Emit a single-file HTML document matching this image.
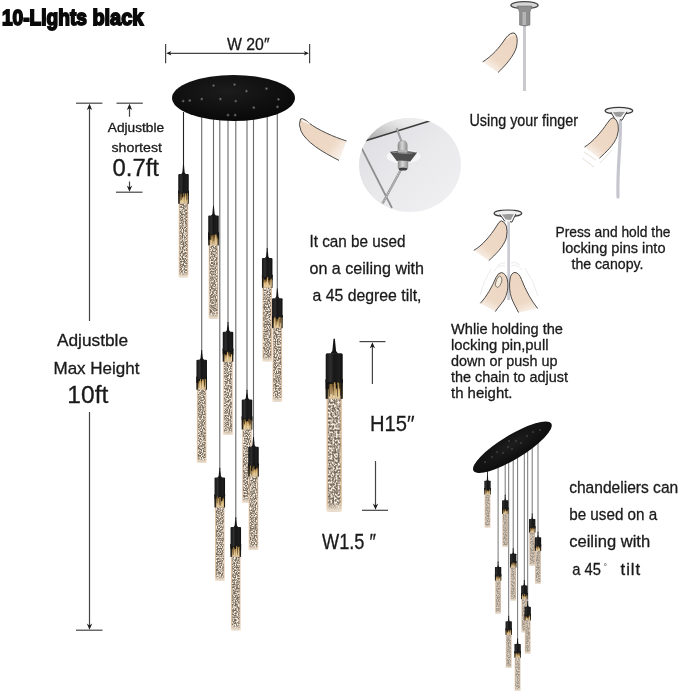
<!DOCTYPE html>
<html><head><meta charset="utf-8"><title>10-Lights black</title>
<style>
html,body{margin:0;padding:0;background:#fff;}
body{width:679px;height:693px;overflow:hidden;font-family:"Liberation Sans", sans-serif;}
svg{display:block;font-family:"Liberation Sans", sans-serif;}
</style></head><body>
<svg width="679" height="693" viewBox="0 0 679 693">

<defs>
<linearGradient id="cap" x1="0" x2="1" y1="0" y2="0">
 <stop offset="0" stop-color="#141414"/><stop offset="0.28" stop-color="#2e2e2e"/><stop offset="0.5" stop-color="#161616"/><stop offset="0.8" stop-color="#1f1f1f"/><stop offset="1" stop-color="#0c0c0c"/>
</linearGradient>
<linearGradient id="gold" x1="0" x2="0" y1="0" y2="1">
 <stop offset="0" stop-color="#2a1e10"/><stop offset="0.35" stop-color="#7a5d36"/><stop offset="0.75" stop-color="#c2a06c"/><stop offset="1" stop-color="#dac4a0"/>
</linearGradient>
<linearGradient id="goldedge" x1="0" x2="1" y1="0" y2="0">
 <stop offset="0" stop-color="#111" stop-opacity="1"/><stop offset="0.1" stop-color="#111" stop-opacity="0.85"/><stop offset="0.2" stop-color="#111" stop-opacity="0"/><stop offset="0.8" stop-color="#111" stop-opacity="0"/><stop offset="0.9" stop-color="#111" stop-opacity="0.85"/><stop offset="1" stop-color="#111" stop-opacity="1"/>
</linearGradient>
<linearGradient id="streak" x1="0" x2="0" y1="0" y2="1">
 <stop offset="0" stop-color="#b08846"/><stop offset="0.3" stop-color="#e6c07a"/><stop offset="0.7" stop-color="#f0d8a6"/><stop offset="1" stop-color="#e0c49a"/>
</linearGradient>
<linearGradient id="crg" x1="0" x2="1" y1="0" y2="0">
 <stop offset="0" stop-color="#e9d2bb"/><stop offset="0.1" stop-color="#d8b692"/><stop offset="0.18" stop-color="#b9a48e"/><stop offset="0.5" stop-color="#a89a8a"/><stop offset="0.82" stop-color="#b9a48e"/><stop offset="0.9" stop-color="#d8b692"/><stop offset="1" stop-color="#e9d2bb"/>
</linearGradient>
<linearGradient id="crgS" x1="0" x2="1" y1="0" y2="0">
 <stop offset="0" stop-color="#dfcbb8"/><stop offset="0.14" stop-color="#cfb8a0"/><stop offset="0.25" stop-color="#c3b8aa"/><stop offset="0.5" stop-color="#bcb2a6"/><stop offset="0.75" stop-color="#c3b8aa"/><stop offset="0.86" stop-color="#cfb8a0"/><stop offset="1" stop-color="#dfcbb8"/>
</linearGradient>
<linearGradient id="glow" x1="0" x2="0" y1="0" y2="1">
 <stop offset="0" stop-color="#f3e6d4" stop-opacity="0"/><stop offset="1" stop-color="#f6ead9" stop-opacity="0.95"/>
</linearGradient>
<radialGradient id="canopy" cx="0.45" cy="0.35" r="0.7">
 <stop offset="0" stop-color="#1c1c1c"/><stop offset="1" stop-color="#070707"/>
</radialGradient>
<radialGradient id="canopy2" cx="0.5" cy="0.4" r="0.7">
 <stop offset="0" stop-color="#1e1e1e"/><stop offset="1" stop-color="#0a0a0a"/>
</radialGradient>
<linearGradient id="circ" x1="0" x2="1" y1="0" y2="1">
 <stop offset="0" stop-color="#dcdce0"/><stop offset="0.5" stop-color="#e9e9ec"/><stop offset="1" stop-color="#f1f1f3"/>
</linearGradient>
<linearGradient id="ceil" x1="0" x2="1" y1="1" y2="0">
 <stop offset="0" stop-color="#9a9a9a"/><stop offset="0.5" stop-color="#e8e8e8"/><stop offset="1" stop-color="#ffffff"/>
</linearGradient>
<linearGradient id="f1" gradientUnits="userSpaceOnUse" x1="513" y1="37" x2="489" y2="68"><stop offset="0" stop-color="#ecd6c2"/><stop offset="0.72" stop-color="#eed9c6"/><stop offset="1" stop-color="#f9f1ea"/></linearGradient>
<linearGradient id="f2" gradientUnits="userSpaceOnUse" x1="615" y1="124" x2="591" y2="154"><stop offset="0" stop-color="#ecd6c2"/><stop offset="0.72" stop-color="#eed9c6"/><stop offset="1" stop-color="#f9f1ea"/></linearGradient>
<linearGradient id="f3" gradientUnits="userSpaceOnUse" x1="503" y1="226" x2="480" y2="257"><stop offset="0" stop-color="#ecd6c2"/><stop offset="0.72" stop-color="#eed9c6"/><stop offset="1" stop-color="#f9f1ea"/></linearGradient>
<linearGradient id="f4" gradientUnits="userSpaceOnUse" x1="502" y1="276" x2="486" y2="309"><stop offset="0" stop-color="#ecd6c2"/><stop offset="0.72" stop-color="#eed9c6"/><stop offset="1" stop-color="#f9f1ea"/></linearGradient>
<linearGradient id="f5" gradientUnits="userSpaceOnUse" x1="515" y1="275" x2="530" y2="312"><stop offset="0" stop-color="#ecd6c2"/><stop offset="0.72" stop-color="#eed9c6"/><stop offset="1" stop-color="#f9f1ea"/></linearGradient>
<linearGradient id="f6" gradientUnits="userSpaceOnUse" x1="303" y1="121" x2="344" y2="152"><stop offset="0" stop-color="#ecd6c2"/><stop offset="0.72" stop-color="#eed9c6"/><stop offset="1" stop-color="#f9f1ea"/></linearGradient>
<linearGradient id="cyl" x1="0" x2="1" y1="0" y2="0">
 <stop offset="0" stop-color="#8a8a8a"/><stop offset="0.45" stop-color="#d5d5d5"/><stop offset="1" stop-color="#8f8f8f"/>
</linearGradient>
<filter id="spk0" x="0" y="0" width="1" height="1" color-interpolation-filters="sRGB">
 <feTurbulence type="fractalNoise" baseFrequency="0.85 0.7" numOctaves="2" seed="7" result="n"/>
 <feColorMatrix in="n" type="matrix" values="3.0 0 0 0 -1.0  3.0 0 0 0 -1.0  3.0 0 0 0 -1.0  0 0 0 0 1" result="c"/>
 <feComponentTransfer in="c" result="d">
  <feFuncR type="table" tableValues="0.44 0.55 0.68 0.82 0.96"/>
  <feFuncG type="table" tableValues="0.40 0.50 0.63 0.78 0.93"/>
  <feFuncB type="table" tableValues="0.35 0.44 0.57 0.72 0.89"/>
 </feComponentTransfer>
 <feGaussianBlur in="d" stdDeviation="0.4" result="e"/>
 <feComposite in="e" in2="SourceGraphic" operator="in"/>
</filter>
<filter id="spkB" x="0" y="0" width="1" height="1" color-interpolation-filters="sRGB">
 <feTurbulence type="fractalNoise" baseFrequency="0.55 0.5" numOctaves="2" seed="11" result="n"/>
 <feColorMatrix in="n" type="matrix" values="3.0 0 0 0 -1.0  3.0 0 0 0 -1.0  3.0 0 0 0 -1.0  0 0 0 0 1" result="c"/>
 <feComponentTransfer in="c" result="d">
  <feFuncR type="table" tableValues="0.44 0.55 0.68 0.82 0.96"/>
  <feFuncG type="table" tableValues="0.40 0.50 0.63 0.78 0.93"/>
  <feFuncB type="table" tableValues="0.35 0.44 0.57 0.72 0.89"/>
 </feComponentTransfer>
 <feGaussianBlur in="d" stdDeviation="0.4" result="e"/>
 <feComposite in="e" in2="SourceGraphic" operator="in"/>
</filter>
<filter id="spk1" x="0" y="0" width="1" height="1" color-interpolation-filters="sRGB">
 <feTurbulence type="fractalNoise" baseFrequency="0.85 0.7" numOctaves="2" seed="23" result="n"/>
 <feColorMatrix in="n" type="matrix" values="3.0 0 0 0 -1.0  3.0 0 0 0 -1.0  3.0 0 0 0 -1.0  0 0 0 0 1" result="c"/>
 <feComponentTransfer in="c" result="d">
  <feFuncR type="table" tableValues="0.44 0.55 0.68 0.82 0.96"/>
  <feFuncG type="table" tableValues="0.40 0.50 0.63 0.78 0.93"/>
  <feFuncB type="table" tableValues="0.35 0.44 0.57 0.72 0.89"/>
 </feComponentTransfer>
 <feGaussianBlur in="d" stdDeviation="0.4" result="e"/>
 <feComposite in="e" in2="SourceGraphic" operator="in"/>
</filter>
<filter id="spk2" x="0" y="0" width="1" height="1" color-interpolation-filters="sRGB">
 <feTurbulence type="fractalNoise" baseFrequency="0.85 0.7" numOctaves="2" seed="51" result="n"/>
 <feColorMatrix in="n" type="matrix" values="3.0 0 0 0 -1.0  3.0 0 0 0 -1.0  3.0 0 0 0 -1.0  0 0 0 0 1" result="c"/>
 <feComponentTransfer in="c" result="d">
  <feFuncR type="table" tableValues="0.44 0.55 0.68 0.82 0.96"/>
  <feFuncG type="table" tableValues="0.40 0.50 0.63 0.78 0.93"/>
  <feFuncB type="table" tableValues="0.35 0.44 0.57 0.72 0.89"/>
 </feComponentTransfer>
 <feGaussianBlur in="d" stdDeviation="0.4" result="e"/>
 <feComposite in="e" in2="SourceGraphic" operator="in"/>
</filter>

</defs>

<rect width="679" height="693" fill="#fff"/>

<!-- diagram 1: fixture + finger -->
<g>
<rect x="523" y="24" width="3" height="67" fill="#c9c9ce"/>
<ellipse cx="524.5" cy="5.2" rx="13.6" ry="3.6" fill="#d6d6d6" stroke="#4a4a4a" stroke-width="1.3"/>
<path d="M517 6 L532 6 L530 12 L530 25 Q524.5 27 519.5 25 L519.5 12 Z" fill="#8f8f8f" stroke="#666" stroke-width="0.5"/>
<rect x="522.5" y="12" width="3.5" height="13" fill="#b5b5b5"/>
<path d="M482.7 61.9 C492 56 500 47 505 39 Q511 31 515 33.5 Q518.5 37 516.5 47 C514 56 505 66 498 72.5" fill="url(#f1)"/>
<path d="M482.7 61.9 C492 56 500 47 505 39 Q511 31 515 33.5 Q518.5 37 516.5 47 C514 56 505 66 498 72.5" fill="none" stroke="#3a3a3a" stroke-width="0.9"/>
<path d="M506.8 38.8 Q511 34.8 514.5 34.6" fill="none" stroke="#fff" stroke-width="0.9"/>
</g>
<!-- diagram 2 -->
<g>
<path d="M620.3 120 C621.5 140 617 165 618 197" fill="none" stroke="#c6c6cf" stroke-width="3.2" stroke-linecap="round"/>
<ellipse cx="618.9" cy="110.8" rx="13.8" ry="3.4" fill="#f0f0f0" stroke="#3c3c3c" stroke-width="1.2"/>
<path d="M610.8 112 Q618.8 110.6 626.8 111.8 L622 120.2 L614.6 118.6 Z" fill="#f4f4f4"/>
<path d="M612.8 112.2 Q618.8 111.2 624.8 112 L620.8 117 L616 116.6 Z" fill="#9c9c9c"/>
<path d="M610.8 112 L614.6 118.6 M626.8 111.8 L622 120.2 L620 119.6" fill="none" stroke="#3c3c3c" stroke-width="1"/>
<path d="M584.5 147 C593 142 602 131 607 123.5 Q610.5 117.9 613 117.7 Q616.5 118.5 618 124 Q619.3 130 617 136.5 C614 145 606 152 599.4 158.3" fill="url(#f2)"/>
<path d="M584.5 147 C593 142 602 131 607 123.5 Q610.5 117.9 613 117.7 Q616.5 118.5 618 124 Q619.3 130 617 136.5 C614 145 606 152 599.4 158.3" fill="none" stroke="#3a3a3a" stroke-width="0.9"/>
<path d="M584 152 L596 160 M582 158 L594 167 M600 163 L612 150" stroke="#e8e0d8" stroke-width="1" fill="none"/>
</g>
<!-- diagram 3 -->
<g>
<rect x="507.3" y="221" width="2.7" height="79" fill="#cbcbd3"/>
<ellipse cx="507.9" cy="213.3" rx="13.8" ry="3.3" fill="#f0f0f0" stroke="#3c3c3c" stroke-width="1.2"/>
<path d="M499.8 214.4 Q507.8 213 515.9 214 L511.9 222.2 L504.9 221.4 Z" fill="#f4f4f4"/>
<path d="M501.8 214.6 Q507.8 213.6 513.9 214.3 L510.6 220 L505.8 219.6 Z" fill="#9c9c9c"/>
<path d="M499.8 214.4 L504.9 221.4 M515.9 214 L511.9 222.2 L510 221.6" fill="none" stroke="#3c3c3c" stroke-width="1"/>
<path d="M473.8 250.3 C482 246 491 235 496 227 Q499 221.3 501.2 220.8 Q504.5 221.5 506.3 226 Q507.8 231 506.3 238 C503.5 247 495 255 488.8 260.6" fill="url(#f3)"/>
<path d="M473.8 250.3 C482 246 491 235 496 227 Q499 221.3 501.2 220.8 Q504.5 221.5 506.3 226 Q507.8 231 506.3 238 C503.5 247 495 255 488.8 260.6" fill="none" stroke="#3a3a3a" stroke-width="0.9"/>
<!-- lower left finger -->
<path d="M480.4 303.3 C487 296 492 287 496 277.5 Q498.5 272.3 501.5 272.6 Q506 273.5 507.4 280 C508.6 287 507.5 294 504 300 C501 304.5 497.5 308 495.3 311.6" fill="url(#f4)"/>
<path d="M480.4 303.3 C487 296 492 287 496 277.5 Q498.5 272.3 501.5 272.6 Q506 273.5 507.4 280 C508.6 287 507.5 294 504 300 C501 304.5 497.5 308 495.3 311.6" fill="none" stroke="#3a3a3a" stroke-width="0.9"/>
<path d="M495.2 285.5 Q496.2 277.8 499.5 276.2 Q502.6 276.6 501.6 282 Q500.2 286.6 497.6 287.6 Z" fill="#f6ecdc" stroke="#4a4a4a" stroke-width="0.7"/>
<!-- lower right finger -->
<path d="M537.7 308.6 C531 300 526 291 521.5 279.5 Q519 272.8 515 272.4 Q511 272.8 510 279 C509 286 509.6 292 511.5 298 C513.5 303.5 516.5 308 518.5 312.5" fill="url(#f5)"/>
<path d="M537.7 308.6 C531 300 526 291 521.5 279.5 Q519 272.8 515 272.4 Q511 272.8 510 279 C509 286 509.6 292 511.5 298 C513.5 303.5 516.5 308 518.5 312.5" fill="none" stroke="#3a3a3a" stroke-width="0.9"/>
<path d="M494 271 Q499 264 505 266 M511 266 Q517 263 522 270 M491 269 Q483 282 480 295 M525 268 Q534 282 538 296 M497 266 Q501 262 505 263 M511 263 Q516 261 520 265" stroke="#e9e9ea" stroke-width="0.9" fill="none"/>
</g>
<!-- ceiling circle -->
<g>
<clipPath id="cc"><ellipse cx="410" cy="165" rx="51" ry="47"/></clipPath>
<ellipse cx="410" cy="165" rx="51" ry="47" fill="url(#circ)"/>
<g clip-path="url(#cc)">
<path d="M350 100 L440 100 L432 119 L364 141 Z" fill="url(#ceil)"/>
<line x1="364" y1="141.2" x2="432" y2="120.2" stroke="#3c3c3c" stroke-width="1.5"/>
<line x1="361.3" y1="147.5" x2="392" y2="208" stroke="#8e8e8e" stroke-width="1.7"/>
<line x1="396.6" y1="128" x2="401.5" y2="141.5" stroke="#909090" stroke-width="2"/><line x1="396.6" y1="128" x2="401.5" y2="141.5" stroke="#cfcfcf" stroke-width="0.8" stroke-dasharray="1 1"/>
<ellipse cx="403.5" cy="156.5" rx="17" ry="7" fill="#f5f5f7"/>
<line x1="401.3" y1="169" x2="382.5" y2="203.5" stroke="#9a9a9a" stroke-width="2.5"/>
<line x1="401.3" y1="169" x2="382.5" y2="203.5" stroke="#cfcfcf" stroke-width="1" stroke-dasharray="1.1 1.1"/>
<path d="M397.9 152.5 L397.9 145 Q398.2 140.6 402.6 140.6 Q407 140.6 407.3 145 L407.3 152.5 Z" fill="url(#cyl)" stroke="#8a8a8a" stroke-width="0.4"/>
<path d="M389.8 151.8 Q403 154.8 417.2 152.6 L410.3 161.4 L396.8 161 Z" fill="#4e4e4e"/>
<path d="M389.8 151.8 Q403 154.8 417.2 152.6 Q403 149.5 389.8 151.8 Z" fill="#6a6a6a"/>
<path d="M397.9 152.6 L407.3 152.8 L407.3 150.5 L397.9 150.3 Z" fill="#b5b5b5"/>
<path d="M397.8 160.6 L408.3 160.9 L408.1 168.8 Q403 171.2 397.8 168.6 Z" fill="url(#cyl)"/>
<ellipse cx="403" cy="169" rx="4.3" ry="1.6" fill="#3e3e3e"/>
</g>
</g>
<!-- finger next to canopy -->
<g>
<path d="M346.5 141 C334 137 318 130 309 123 Q303 117.5 300.5 119 Q298 124 301 131 C306 142 322 152 339 160.4" fill="url(#f6)"/>
<path d="M346.5 141 C334 137 318 130 309 123 Q303 117.5 300.5 119 Q298 124 301 131 C306 142 322 152 339 160.4" fill="none" stroke="#3a3a3a" stroke-width="0.9"/>
<path d="M301.8 119.6 Q303.5 121.8 307 122.2 L309.5 124" fill="none" stroke="#fff" stroke-width="1.1"/>
</g>

<line x1="183.50" y1="112" x2="183.50" y2="165.90" stroke="#222" stroke-width="1.1"/>
<line x1="213.50" y1="112" x2="213.50" y2="207.50" stroke="#6a6a6a" stroke-width="1.1"/>
<line x1="267.20" y1="112" x2="267.20" y2="249.90" stroke="#6a6a6a" stroke-width="1.1"/>
<line x1="277.30" y1="112" x2="277.30" y2="290.30" stroke="#6a6a6a" stroke-width="1.1"/>
<line x1="228.00" y1="112" x2="228.00" y2="323.80" stroke="#6a6a6a" stroke-width="1.1"/>
<line x1="201.70" y1="112" x2="201.70" y2="351.80" stroke="#6a6a6a" stroke-width="1.1"/>
<line x1="247.00" y1="112" x2="247.00" y2="391.60" stroke="#6a6a6a" stroke-width="1.1"/>
<line x1="253.50" y1="112" x2="253.50" y2="438.70" stroke="#6a6a6a" stroke-width="1.1"/>
<line x1="219.80" y1="112" x2="219.80" y2="469.60" stroke="#6a6a6a" stroke-width="1.1"/>
<line x1="235.80" y1="112" x2="235.80" y2="519.00" stroke="#6a6a6a" stroke-width="1.1"/>
<path d="M183.08 164.10 L183.92 164.10 L184.66 172.40 L186.04 174.40 L180.96 174.40 L182.34 172.40 Z" fill="#141414"/>
<rect x="178.67" y="202.49" width="9.66" height="74.71" rx="0.90" fill="url(#crg)"/>
<rect x="179.64" y="202.49" width="7.73" height="72.21" fill="#fff" filter="url(#spk1)" opacity="1.0"/>
<rect x="178.67" y="271.18" width="9.66" height="6.02" rx="0.90" fill="url(#glow)"/>
<rect x="178.25" y="190.95" width="10.50" height="12.83" fill="url(#gold)"/>
<rect x="178.25" y="190.95" width="10.50" height="12.83" fill="url(#goldedge)"/>
<rect x="178.25" y="190.85" width="2.15" height="2.25" fill="#121212"/>
<rect x="180.35" y="190.85" width="2.15" height="6.54" fill="#121212"/>
<rect x="182.45" y="190.85" width="2.15" height="6.04" fill="#121212"/>
<rect x="184.55" y="190.85" width="2.15" height="2.98" fill="#121212"/>
<rect x="186.65" y="190.85" width="2.15" height="4.43" fill="#121212"/>
<rect x="180.43" y="193.76" width="1.18" height="9.73" fill="url(#streak)"/>
<rect x="181.62" y="197.88" width="1.20" height="5.60" fill="url(#streak)"/>
<rect x="183.44" y="193.02" width="0.70" height="10.46" fill="url(#streak)"/>
<rect x="184.96" y="193.29" width="0.84" height="10.19" fill="url(#streak)"/>
<rect x="186.93" y="192.10" width="0.72" height="11.38" fill="url(#streak)"/>
<rect x="180.01" y="194.46" width="0.55" height="6.22" fill="#2a1b0a" opacity="0.75"/>
<rect x="186.73" y="194.46" width="0.55" height="5.45" fill="#2a1b0a" opacity="0.75"/>
<rect x="181.42" y="194.46" width="0.55" height="5.64" fill="#2a1b0a" opacity="0.75"/>
<rect x="178.25" y="173.90" width="10.50" height="19.00" rx="1.00" fill="url(#cap)"/>
<path d="M213.08 205.70 L213.92 205.70 L214.66 214.00 L216.04 216.00 L210.96 216.00 L212.34 214.00 Z" fill="#141414"/>
<rect x="208.67" y="244.09" width="9.66" height="74.71" rx="0.90" fill="url(#crg)"/>
<rect x="209.64" y="244.09" width="7.73" height="72.21" fill="#fff" filter="url(#spk2)" opacity="1.0"/>
<rect x="208.67" y="312.78" width="9.66" height="6.02" rx="0.90" fill="url(#glow)"/>
<rect x="208.25" y="232.55" width="10.50" height="12.83" fill="url(#gold)"/>
<rect x="208.25" y="232.55" width="10.50" height="12.83" fill="url(#goldedge)"/>
<rect x="208.25" y="232.45" width="2.15" height="7.20" fill="#121212"/>
<rect x="210.35" y="232.45" width="2.15" height="7.15" fill="#121212"/>
<rect x="212.45" y="232.45" width="2.15" height="1.78" fill="#121212"/>
<rect x="214.55" y="232.45" width="2.15" height="1.95" fill="#121212"/>
<rect x="216.65" y="232.45" width="2.15" height="6.47" fill="#121212"/>
<rect x="210.69" y="235.24" width="0.89" height="9.85" fill="url(#streak)"/>
<rect x="212.08" y="235.65" width="1.05" height="9.43" fill="url(#streak)"/>
<rect x="213.19" y="236.82" width="0.94" height="8.27" fill="url(#streak)"/>
<rect x="215.21" y="233.09" width="1.27" height="12.00" fill="url(#streak)"/>
<rect x="216.56" y="236.73" width="0.86" height="8.36" fill="url(#streak)"/>
<rect x="210.09" y="236.06" width="0.55" height="3.74" fill="#2a1b0a" opacity="0.75"/>
<rect x="213.24" y="236.06" width="0.55" height="5.14" fill="#2a1b0a" opacity="0.75"/>
<rect x="212.62" y="236.06" width="0.55" height="7.90" fill="#2a1b0a" opacity="0.75"/>
<rect x="208.25" y="215.50" width="10.50" height="19.00" rx="1.00" fill="url(#cap)"/>
<path d="M266.78 248.10 L267.62 248.10 L268.35 256.40 L269.74 258.40 L264.66 258.40 L266.05 256.40 Z" fill="#141414"/>
<rect x="262.37" y="286.49" width="9.66" height="74.71" rx="0.90" fill="url(#crg)"/>
<rect x="263.34" y="286.49" width="7.73" height="72.21" fill="#fff" filter="url(#spk0)" opacity="1.0"/>
<rect x="262.37" y="355.18" width="9.66" height="6.02" rx="0.90" fill="url(#glow)"/>
<rect x="261.95" y="274.95" width="10.50" height="12.83" fill="url(#gold)"/>
<rect x="261.95" y="274.95" width="10.50" height="12.83" fill="url(#goldedge)"/>
<rect x="261.95" y="274.85" width="2.15" height="2.88" fill="#121212"/>
<rect x="264.05" y="274.85" width="2.15" height="4.72" fill="#121212"/>
<rect x="266.15" y="274.85" width="2.15" height="3.67" fill="#121212"/>
<rect x="268.25" y="274.85" width="2.15" height="5.08" fill="#121212"/>
<rect x="270.35" y="274.85" width="2.15" height="5.21" fill="#121212"/>
<rect x="263.78" y="281.98" width="1.21" height="5.50" fill="url(#streak)"/>
<rect x="265.47" y="280.52" width="1.30" height="6.97" fill="url(#streak)"/>
<rect x="267.17" y="276.53" width="0.99" height="10.95" fill="url(#streak)"/>
<rect x="268.84" y="281.07" width="1.08" height="6.41" fill="url(#streak)"/>
<rect x="270.56" y="278.61" width="1.15" height="8.88" fill="url(#streak)"/>
<rect x="268.46" y="278.46" width="0.55" height="3.92" fill="#2a1b0a" opacity="0.75"/>
<rect x="269.10" y="278.46" width="0.55" height="6.46" fill="#2a1b0a" opacity="0.75"/>
<rect x="265.74" y="278.46" width="0.55" height="3.76" fill="#2a1b0a" opacity="0.75"/>
<rect x="261.95" y="257.90" width="10.50" height="19.00" rx="1.00" fill="url(#cap)"/>
<path d="M276.88 288.50 L277.72 288.50 L278.45 296.80 L279.84 298.80 L274.76 298.80 L276.15 296.80 Z" fill="#141414"/>
<rect x="272.47" y="326.89" width="9.66" height="74.71" rx="0.90" fill="url(#crg)"/>
<rect x="273.44" y="326.89" width="7.73" height="72.21" fill="#fff" filter="url(#spk1)" opacity="1.0"/>
<rect x="272.47" y="395.58" width="9.66" height="6.02" rx="0.90" fill="url(#glow)"/>
<rect x="272.05" y="315.35" width="10.50" height="12.83" fill="url(#gold)"/>
<rect x="272.05" y="315.35" width="10.50" height="12.83" fill="url(#goldedge)"/>
<rect x="272.05" y="315.25" width="2.15" height="2.86" fill="#121212"/>
<rect x="274.15" y="315.25" width="2.15" height="2.06" fill="#121212"/>
<rect x="276.25" y="315.25" width="2.15" height="3.83" fill="#121212"/>
<rect x="278.35" y="315.25" width="2.15" height="2.38" fill="#121212"/>
<rect x="280.45" y="315.25" width="2.15" height="1.84" fill="#121212"/>
<rect x="274.19" y="316.39" width="1.18" height="11.49" fill="url(#streak)"/>
<rect x="276.03" y="321.00" width="1.02" height="6.88" fill="url(#streak)"/>
<rect x="277.10" y="321.33" width="0.77" height="6.56" fill="url(#streak)"/>
<rect x="278.55" y="316.33" width="1.20" height="11.55" fill="url(#streak)"/>
<rect x="280.60" y="317.17" width="0.82" height="10.71" fill="url(#streak)"/>
<rect x="275.90" y="318.86" width="0.55" height="6.63" fill="#2a1b0a" opacity="0.75"/>
<rect x="279.00" y="318.86" width="0.55" height="7.72" fill="#2a1b0a" opacity="0.75"/>
<rect x="280.09" y="318.86" width="0.55" height="4.03" fill="#2a1b0a" opacity="0.75"/>
<rect x="272.05" y="298.30" width="10.50" height="19.00" rx="1.00" fill="url(#cap)"/>
<path d="M227.58 322.00 L228.42 322.00 L229.16 330.30 L230.54 332.30 L225.46 332.30 L226.84 330.30 Z" fill="#141414"/>
<rect x="223.17" y="360.39" width="9.66" height="74.71" rx="0.90" fill="url(#crg)"/>
<rect x="224.14" y="360.39" width="7.73" height="72.21" fill="#fff" filter="url(#spk2)" opacity="1.0"/>
<rect x="223.17" y="429.08" width="9.66" height="6.02" rx="0.90" fill="url(#glow)"/>
<rect x="222.75" y="348.85" width="10.50" height="12.83" fill="url(#gold)"/>
<rect x="222.75" y="348.85" width="10.50" height="12.83" fill="url(#goldedge)"/>
<rect x="222.75" y="348.75" width="2.15" height="5.19" fill="#121212"/>
<rect x="224.85" y="348.75" width="2.15" height="5.91" fill="#121212"/>
<rect x="226.95" y="348.75" width="2.15" height="6.23" fill="#121212"/>
<rect x="229.05" y="348.75" width="2.15" height="7.12" fill="#121212"/>
<rect x="231.15" y="348.75" width="2.15" height="5.90" fill="#121212"/>
<rect x="225.36" y="355.78" width="0.98" height="5.61" fill="url(#streak)"/>
<rect x="226.89" y="351.67" width="1.24" height="9.71" fill="url(#streak)"/>
<rect x="227.65" y="352.87" width="0.85" height="8.52" fill="url(#streak)"/>
<rect x="229.55" y="352.17" width="0.71" height="9.21" fill="url(#streak)"/>
<rect x="230.77" y="354.12" width="1.25" height="7.27" fill="url(#streak)"/>
<rect x="229.95" y="352.36" width="0.55" height="4.38" fill="#2a1b0a" opacity="0.75"/>
<rect x="230.18" y="352.36" width="0.55" height="4.28" fill="#2a1b0a" opacity="0.75"/>
<rect x="228.86" y="352.36" width="0.55" height="4.22" fill="#2a1b0a" opacity="0.75"/>
<rect x="222.75" y="331.80" width="10.50" height="19.00" rx="1.00" fill="url(#cap)"/>
<path d="M201.28 350.00 L202.12 350.00 L202.85 358.30 L204.24 360.30 L199.16 360.30 L200.54 358.30 Z" fill="#141414"/>
<rect x="196.87" y="388.39" width="9.66" height="74.71" rx="0.90" fill="url(#crg)"/>
<rect x="197.84" y="388.39" width="7.73" height="72.21" fill="#fff" filter="url(#spk0)" opacity="1.0"/>
<rect x="196.87" y="457.08" width="9.66" height="6.02" rx="0.90" fill="url(#glow)"/>
<rect x="196.45" y="376.85" width="10.50" height="12.83" fill="url(#gold)"/>
<rect x="196.45" y="376.85" width="10.50" height="12.83" fill="url(#goldedge)"/>
<rect x="196.45" y="376.75" width="2.15" height="6.22" fill="#121212"/>
<rect x="198.55" y="376.75" width="2.15" height="6.39" fill="#121212"/>
<rect x="200.65" y="376.75" width="2.15" height="4.36" fill="#121212"/>
<rect x="202.75" y="376.75" width="2.15" height="3.02" fill="#121212"/>
<rect x="204.85" y="376.75" width="2.15" height="1.45" fill="#121212"/>
<rect x="198.82" y="380.86" width="1.16" height="8.53" fill="url(#streak)"/>
<rect x="200.07" y="378.87" width="0.87" height="10.51" fill="url(#streak)"/>
<rect x="201.97" y="379.14" width="0.95" height="10.25" fill="url(#streak)"/>
<rect x="203.25" y="379.46" width="0.82" height="9.93" fill="url(#streak)"/>
<rect x="204.77" y="378.64" width="0.86" height="10.75" fill="url(#streak)"/>
<rect x="203.93" y="380.36" width="0.55" height="6.91" fill="#2a1b0a" opacity="0.75"/>
<rect x="204.23" y="380.36" width="0.55" height="5.23" fill="#2a1b0a" opacity="0.75"/>
<rect x="198.71" y="380.36" width="0.55" height="7.46" fill="#2a1b0a" opacity="0.75"/>
<rect x="196.45" y="359.80" width="10.50" height="19.00" rx="1.00" fill="url(#cap)"/>
<path d="M246.58 389.80 L247.42 389.80 L248.16 398.10 L249.54 400.10 L244.46 400.10 L245.84 398.10 Z" fill="#141414"/>
<rect x="242.17" y="428.19" width="9.66" height="74.71" rx="0.90" fill="url(#crg)"/>
<rect x="243.14" y="428.19" width="7.73" height="72.21" fill="#fff" filter="url(#spk1)" opacity="1.0"/>
<rect x="242.17" y="496.88" width="9.66" height="6.02" rx="0.90" fill="url(#glow)"/>
<rect x="241.75" y="416.65" width="10.50" height="12.83" fill="url(#gold)"/>
<rect x="241.75" y="416.65" width="10.50" height="12.83" fill="url(#goldedge)"/>
<rect x="241.75" y="416.55" width="2.15" height="3.39" fill="#121212"/>
<rect x="243.85" y="416.55" width="2.15" height="2.35" fill="#121212"/>
<rect x="245.95" y="416.55" width="2.15" height="5.36" fill="#121212"/>
<rect x="248.05" y="416.55" width="2.15" height="1.88" fill="#121212"/>
<rect x="250.15" y="416.55" width="2.15" height="4.67" fill="#121212"/>
<rect x="243.85" y="423.39" width="1.01" height="5.80" fill="url(#streak)"/>
<rect x="245.07" y="420.90" width="0.74" height="8.29" fill="url(#streak)"/>
<rect x="246.63" y="420.96" width="1.20" height="8.23" fill="url(#streak)"/>
<rect x="248.17" y="422.29" width="1.08" height="6.89" fill="url(#streak)"/>
<rect x="250.43" y="419.95" width="0.94" height="9.24" fill="url(#streak)"/>
<rect x="250.50" y="420.16" width="0.55" height="3.83" fill="#2a1b0a" opacity="0.75"/>
<rect x="249.63" y="420.16" width="0.55" height="5.00" fill="#2a1b0a" opacity="0.75"/>
<rect x="244.39" y="420.16" width="0.55" height="4.18" fill="#2a1b0a" opacity="0.75"/>
<rect x="241.75" y="399.60" width="10.50" height="19.00" rx="1.00" fill="url(#cap)"/>
<path d="M253.08 436.90 L253.92 436.90 L254.66 445.20 L256.04 447.20 L250.96 447.20 L252.34 445.20 Z" fill="#141414"/>
<rect x="248.67" y="475.29" width="9.66" height="74.71" rx="0.90" fill="url(#crg)"/>
<rect x="249.64" y="475.29" width="7.73" height="72.21" fill="#fff" filter="url(#spk2)" opacity="1.0"/>
<rect x="248.67" y="543.98" width="9.66" height="6.02" rx="0.90" fill="url(#glow)"/>
<rect x="248.25" y="463.75" width="10.50" height="12.83" fill="url(#gold)"/>
<rect x="248.25" y="463.75" width="10.50" height="12.83" fill="url(#goldedge)"/>
<rect x="248.25" y="463.65" width="2.15" height="2.81" fill="#121212"/>
<rect x="250.35" y="463.65" width="2.15" height="7.23" fill="#121212"/>
<rect x="252.45" y="463.65" width="2.15" height="2.20" fill="#121212"/>
<rect x="254.55" y="463.65" width="2.15" height="5.69" fill="#121212"/>
<rect x="256.65" y="463.65" width="2.15" height="1.96" fill="#121212"/>
<rect x="250.25" y="464.26" width="0.83" height="12.03" fill="url(#streak)"/>
<rect x="252.12" y="467.83" width="0.97" height="8.45" fill="url(#streak)"/>
<rect x="253.50" y="469.60" width="1.20" height="6.69" fill="url(#streak)"/>
<rect x="254.64" y="469.32" width="0.71" height="6.97" fill="url(#streak)"/>
<rect x="256.31" y="468.17" width="1.24" height="8.11" fill="url(#streak)"/>
<rect x="252.61" y="467.26" width="0.55" height="4.16" fill="#2a1b0a" opacity="0.75"/>
<rect x="251.72" y="467.26" width="0.55" height="8.38" fill="#2a1b0a" opacity="0.75"/>
<rect x="250.29" y="467.26" width="0.55" height="6.60" fill="#2a1b0a" opacity="0.75"/>
<rect x="248.25" y="446.70" width="10.50" height="19.00" rx="1.00" fill="url(#cap)"/>
<path d="M219.38 467.80 L220.22 467.80 L220.96 476.10 L222.34 478.10 L217.26 478.10 L218.65 476.10 Z" fill="#141414"/>
<rect x="214.97" y="506.19" width="9.66" height="74.71" rx="0.90" fill="url(#crg)"/>
<rect x="215.94" y="506.19" width="7.73" height="72.21" fill="#fff" filter="url(#spk0)" opacity="1.0"/>
<rect x="214.97" y="574.88" width="9.66" height="6.02" rx="0.90" fill="url(#glow)"/>
<rect x="214.55" y="494.65" width="10.50" height="12.83" fill="url(#gold)"/>
<rect x="214.55" y="494.65" width="10.50" height="12.83" fill="url(#goldedge)"/>
<rect x="214.55" y="494.55" width="2.15" height="4.23" fill="#121212"/>
<rect x="216.65" y="494.55" width="2.15" height="3.69" fill="#121212"/>
<rect x="218.75" y="494.55" width="2.15" height="2.28" fill="#121212"/>
<rect x="220.85" y="494.55" width="2.15" height="6.66" fill="#121212"/>
<rect x="222.95" y="494.55" width="2.15" height="1.48" fill="#121212"/>
<rect x="216.78" y="495.82" width="0.75" height="11.36" fill="url(#streak)"/>
<rect x="218.34" y="497.69" width="0.73" height="9.50" fill="url(#streak)"/>
<rect x="219.69" y="497.11" width="0.97" height="10.07" fill="url(#streak)"/>
<rect x="221.52" y="500.73" width="0.85" height="6.46" fill="url(#streak)"/>
<rect x="222.47" y="498.42" width="1.26" height="8.77" fill="url(#streak)"/>
<rect x="220.46" y="498.16" width="0.55" height="7.34" fill="#2a1b0a" opacity="0.75"/>
<rect x="218.94" y="498.16" width="0.55" height="7.20" fill="#2a1b0a" opacity="0.75"/>
<rect x="216.87" y="498.16" width="0.55" height="5.01" fill="#2a1b0a" opacity="0.75"/>
<rect x="214.55" y="477.60" width="10.50" height="19.00" rx="1.00" fill="url(#cap)"/>
<path d="M235.38 517.20 L236.22 517.20 L236.96 525.50 L238.34 527.50 L233.26 527.50 L234.65 525.50 Z" fill="#141414"/>
<rect x="230.97" y="555.59" width="9.66" height="74.71" rx="0.90" fill="url(#crg)"/>
<rect x="231.94" y="555.59" width="7.73" height="72.21" fill="#fff" filter="url(#spk1)" opacity="1.0"/>
<rect x="230.97" y="624.28" width="9.66" height="6.02" rx="0.90" fill="url(#glow)"/>
<rect x="230.55" y="544.05" width="10.50" height="12.83" fill="url(#gold)"/>
<rect x="230.55" y="544.05" width="10.50" height="12.83" fill="url(#goldedge)"/>
<rect x="230.55" y="543.95" width="2.15" height="4.88" fill="#121212"/>
<rect x="232.65" y="543.95" width="2.15" height="4.03" fill="#121212"/>
<rect x="234.75" y="543.95" width="2.15" height="4.92" fill="#121212"/>
<rect x="236.85" y="543.95" width="2.15" height="2.68" fill="#121212"/>
<rect x="238.95" y="543.95" width="2.15" height="6.34" fill="#121212"/>
<rect x="233.07" y="546.84" width="0.80" height="9.74" fill="url(#streak)"/>
<rect x="234.31" y="549.00" width="0.85" height="7.59" fill="url(#streak)"/>
<rect x="236.21" y="544.57" width="0.73" height="12.01" fill="url(#streak)"/>
<rect x="237.64" y="547.18" width="0.93" height="9.41" fill="url(#streak)"/>
<rect x="238.63" y="546.70" width="0.98" height="9.88" fill="url(#streak)"/>
<rect x="237.17" y="547.56" width="0.55" height="6.80" fill="#2a1b0a" opacity="0.75"/>
<rect x="233.10" y="547.56" width="0.55" height="7.31" fill="#2a1b0a" opacity="0.75"/>
<rect x="239.35" y="547.56" width="0.55" height="8.28" fill="#2a1b0a" opacity="0.75"/>
<rect x="230.55" y="527.00" width="10.50" height="19.00" rx="1.00" fill="url(#cap)"/>
<ellipse cx="233.5" cy="98" rx="61.5" ry="23" fill="url(#canopy)"/>
<circle cx="213.5" cy="85.5" r="1.5" fill="#3c3c3c"/><circle cx="213.7" cy="85.6" r="0.65" fill="#8c8c8c"/><circle cx="234.5" cy="84.5" r="1.5" fill="#3c3c3c"/><circle cx="234.7" cy="84.6" r="0.65" fill="#8c8c8c"/><circle cx="246.4" cy="91.1" r="1.5" fill="#3c3c3c"/><circle cx="246.6" cy="91.19999999999999" r="0.65" fill="#8c8c8c"/><circle cx="266.4" cy="88.6" r="1.5" fill="#3c3c3c"/><circle cx="266.59999999999997" cy="88.69999999999999" r="0.65" fill="#8c8c8c"/><circle cx="183.1" cy="101" r="1.5" fill="#3c3c3c"/><circle cx="183.29999999999998" cy="101.1" r="0.65" fill="#8c8c8c"/><circle cx="189.7" cy="100.4" r="1.5" fill="#3c3c3c"/><circle cx="189.89999999999998" cy="100.5" r="0.65" fill="#8c8c8c"/><circle cx="201.7" cy="98.9" r="1.5" fill="#3c3c3c"/><circle cx="201.89999999999998" cy="99.0" r="0.65" fill="#8c8c8c"/><circle cx="220.3" cy="98.9" r="1.5" fill="#3c3c3c"/><circle cx="220.5" cy="99.0" r="0.65" fill="#8c8c8c"/><circle cx="235.7" cy="101" r="1.5" fill="#3c3c3c"/><circle cx="235.89999999999998" cy="101.1" r="0.65" fill="#8c8c8c"/><circle cx="253.7" cy="107.6" r="1.5" fill="#3c3c3c"/><circle cx="253.89999999999998" cy="107.69999999999999" r="0.65" fill="#8c8c8c"/><circle cx="277.4" cy="106.8" r="1.5" fill="#3c3c3c"/><circle cx="277.59999999999997" cy="106.89999999999999" r="0.65" fill="#8c8c8c"/><circle cx="278.4" cy="99.3" r="1.5" fill="#3c3c3c"/><circle cx="278.59999999999997" cy="99.39999999999999" r="0.65" fill="#8c8c8c"/><circle cx="227.9" cy="115" r="1.5" fill="#3c3c3c"/><circle cx="228.1" cy="115.1" r="0.65" fill="#8c8c8c"/><circle cx="235.1" cy="115" r="1.5" fill="#3c3c3c"/><circle cx="235.29999999999998" cy="115.1" r="0.65" fill="#8c8c8c"/>
<path d="M333.52 338.70 L334.88 338.70 L336.07 350.89 L338.31 353.70 L330.09 353.70 L332.33 350.89 Z" fill="#141414"/>
<rect x="326.38" y="397.54" width="15.64" height="113.96" rx="1.38" fill="url(#crg)"/>
<rect x="327.94" y="397.54" width="12.51" height="110.66" fill="#fff" filter="url(#spkB)" opacity="1.0"/>
<rect x="326.38" y="502.28" width="15.64" height="9.22" rx="1.38" fill="url(#glow)"/>
<rect x="325.70" y="379.60" width="17.00" height="19.24" fill="url(#gold)"/>
<rect x="325.70" y="379.60" width="17.00" height="19.24" fill="url(#goldedge)"/>
<rect x="325.70" y="379.50" width="3.45" height="9.58" fill="#121212"/>
<rect x="329.10" y="379.50" width="3.45" height="5.22" fill="#121212"/>
<rect x="332.50" y="379.50" width="3.45" height="4.43" fill="#121212"/>
<rect x="335.90" y="379.50" width="3.45" height="9.80" fill="#121212"/>
<rect x="339.30" y="379.50" width="3.45" height="3.27" fill="#121212"/>
<rect x="328.93" y="384.58" width="1.64" height="13.96" fill="url(#streak)"/>
<rect x="330.33" y="383.84" width="1.54" height="14.70" fill="url(#streak)"/>
<rect x="332.82" y="389.95" width="1.96" height="8.59" fill="url(#streak)"/>
<rect x="333.86" y="381.99" width="1.54" height="16.55" fill="url(#streak)"/>
<rect x="336.30" y="388.38" width="1.37" height="10.15" fill="url(#streak)"/>
<rect x="337.26" y="382.34" width="1.57" height="16.20" fill="url(#streak)"/>
<rect x="339.14" y="388.29" width="1.15" height="10.24" fill="url(#streak)"/>
<rect x="330.63" y="384.71" width="0.85" height="9.66" fill="#2a1b0a" opacity="0.75"/>
<rect x="333.46" y="384.71" width="0.85" height="10.73" fill="#2a1b0a" opacity="0.75"/>
<rect x="329.16" y="384.71" width="0.85" height="11.73" fill="#2a1b0a" opacity="0.75"/>
<rect x="339.94" y="384.71" width="0.85" height="10.99" fill="#2a1b0a" opacity="0.75"/>
<rect x="337.09" y="384.71" width="0.85" height="11.80" fill="#2a1b0a" opacity="0.75"/>
<rect x="325.70" y="353.20" width="17.00" height="29.11" rx="1.54" fill="url(#cap)"/>
<line x1="487.50" y1="470.33" x2="487.50" y2="476.80" stroke="#222" stroke-width="0.9"/>
<line x1="505.20" y1="459.57" x2="505.20" y2="496.20" stroke="#666" stroke-width="0.9"/>
<line x1="532.20" y1="443.17" x2="532.20" y2="514.90" stroke="#666" stroke-width="0.9"/>
<line x1="538.00" y1="439.65" x2="538.00" y2="533.20" stroke="#666" stroke-width="0.9"/>
<line x1="513.20" y1="454.71" x2="513.20" y2="549.80" stroke="#666" stroke-width="0.9"/>
<line x1="498.10" y1="463.89" x2="498.10" y2="562.90" stroke="#666" stroke-width="0.9"/>
<line x1="524.30" y1="447.97" x2="524.30" y2="581.50" stroke="#666" stroke-width="0.9"/>
<line x1="527.70" y1="445.91" x2="527.70" y2="602.70" stroke="#666" stroke-width="0.9"/>
<line x1="508.70" y1="457.45" x2="508.70" y2="617.20" stroke="#666" stroke-width="0.9"/>
<line x1="517.60" y1="452.04" x2="517.60" y2="640.00" stroke="#666" stroke-width="0.9"/>
<path d="M487.10 475.30 L487.90 475.30 L488.19 480.12 L489.02 481.30 L485.98 481.30 L486.81 480.12 Z" fill="#141414"/>
<rect x="484.60" y="493.20" width="5.80" height="34.40" rx="0.41" fill="url(#crgS)"/>
<rect x="485.36" y="493.20" width="4.29" height="32.71" fill="#fff" filter="url(#spk1)" opacity="0.45"/>
<rect x="484.60" y="524.87" width="5.80" height="2.73" rx="0.41" fill="url(#glow)"/>
<rect x="484.35" y="488.25" width="6.30" height="6.25" fill="url(#gold)"/>
<rect x="484.35" y="488.25" width="6.30" height="6.25" fill="url(#goldedge)"/>
<rect x="484.35" y="488.15" width="1.31" height="1.05" fill="#121212"/>
<rect x="485.61" y="488.15" width="1.31" height="1.89" fill="#121212"/>
<rect x="486.87" y="488.15" width="1.31" height="2.76" fill="#121212"/>
<rect x="488.13" y="488.15" width="1.31" height="2.58" fill="#121212"/>
<rect x="489.39" y="488.15" width="1.31" height="2.65" fill="#121212"/>
<rect x="485.93" y="489.35" width="0.55" height="4.85" fill="url(#streak)"/>
<rect x="487.12" y="490.38" width="0.55" height="3.82" fill="url(#streak)"/>
<rect x="489.40" y="488.91" width="0.55" height="5.29" fill="url(#streak)"/>
<rect x="486.66" y="490.11" width="0.40" height="3.31" fill="#2a1b0a" opacity="0.75"/>
<rect x="486.19" y="490.11" width="0.40" height="2.02" fill="#2a1b0a" opacity="0.75"/>
<rect x="484.35" y="480.80" width="6.30" height="8.61" rx="0.45" fill="url(#cap)"/>
<path d="M504.80 494.70 L505.60 494.70 L505.89 499.52 L506.72 500.70 L503.68 500.70 L504.51 499.52 Z" fill="#141414"/>
<rect x="502.30" y="512.60" width="5.80" height="34.40" rx="0.41" fill="url(#crgS)"/>
<rect x="503.06" y="512.60" width="4.29" height="32.71" fill="#fff" filter="url(#spk2)" opacity="0.45"/>
<rect x="502.30" y="544.27" width="5.80" height="2.73" rx="0.41" fill="url(#glow)"/>
<rect x="502.05" y="507.65" width="6.30" height="6.25" fill="url(#gold)"/>
<rect x="502.05" y="507.65" width="6.30" height="6.25" fill="url(#goldedge)"/>
<rect x="502.05" y="507.55" width="1.31" height="2.24" fill="#121212"/>
<rect x="503.31" y="507.55" width="1.31" height="1.19" fill="#121212"/>
<rect x="504.57" y="507.55" width="1.31" height="3.29" fill="#121212"/>
<rect x="505.83" y="507.55" width="1.31" height="3.17" fill="#121212"/>
<rect x="507.09" y="507.55" width="1.31" height="1.93" fill="#121212"/>
<rect x="503.84" y="510.51" width="0.55" height="3.10" fill="url(#streak)"/>
<rect x="505.01" y="509.07" width="0.55" height="4.53" fill="url(#streak)"/>
<rect x="507.14" y="510.94" width="0.55" height="2.66" fill="url(#streak)"/>
<rect x="503.39" y="509.51" width="0.40" height="3.31" fill="#2a1b0a" opacity="0.75"/>
<rect x="504.61" y="509.51" width="0.40" height="2.66" fill="#2a1b0a" opacity="0.75"/>
<rect x="502.05" y="500.20" width="6.30" height="8.61" rx="0.45" fill="url(#cap)"/>
<path d="M531.80 513.40 L532.60 513.40 L532.89 518.22 L533.72 519.40 L530.68 519.40 L531.51 518.22 Z" fill="#141414"/>
<rect x="529.30" y="531.30" width="5.80" height="34.40" rx="0.41" fill="url(#crgS)"/>
<rect x="530.06" y="531.30" width="4.29" height="32.71" fill="#fff" filter="url(#spk0)" opacity="0.45"/>
<rect x="529.30" y="562.97" width="5.80" height="2.73" rx="0.41" fill="url(#glow)"/>
<rect x="529.05" y="526.35" width="6.30" height="6.25" fill="url(#gold)"/>
<rect x="529.05" y="526.35" width="6.30" height="6.25" fill="url(#goldedge)"/>
<rect x="529.05" y="526.25" width="1.31" height="1.06" fill="#121212"/>
<rect x="530.31" y="526.25" width="1.31" height="2.33" fill="#121212"/>
<rect x="531.57" y="526.25" width="1.31" height="1.12" fill="#121212"/>
<rect x="532.83" y="526.25" width="1.31" height="2.60" fill="#121212"/>
<rect x="534.09" y="526.25" width="1.31" height="2.31" fill="#121212"/>
<rect x="530.58" y="528.00" width="0.55" height="4.31" fill="url(#streak)"/>
<rect x="531.79" y="528.26" width="0.55" height="4.04" fill="url(#streak)"/>
<rect x="533.73" y="527.21" width="0.55" height="5.09" fill="url(#streak)"/>
<rect x="531.66" y="528.21" width="0.40" height="2.13" fill="#2a1b0a" opacity="0.75"/>
<rect x="530.56" y="528.21" width="0.40" height="3.40" fill="#2a1b0a" opacity="0.75"/>
<rect x="529.05" y="518.90" width="6.30" height="8.61" rx="0.45" fill="url(#cap)"/>
<path d="M537.60 531.70 L538.40 531.70 L538.69 536.52 L539.52 537.70 L536.48 537.70 L537.31 536.52 Z" fill="#141414"/>
<rect x="535.10" y="549.60" width="5.80" height="34.40" rx="0.41" fill="url(#crgS)"/>
<rect x="535.86" y="549.60" width="4.29" height="32.71" fill="#fff" filter="url(#spk1)" opacity="0.45"/>
<rect x="535.10" y="581.27" width="5.80" height="2.73" rx="0.41" fill="url(#glow)"/>
<rect x="534.85" y="544.65" width="6.30" height="6.25" fill="url(#gold)"/>
<rect x="534.85" y="544.65" width="6.30" height="6.25" fill="url(#goldedge)"/>
<rect x="534.85" y="544.55" width="1.31" height="3.32" fill="#121212"/>
<rect x="536.11" y="544.55" width="1.31" height="1.90" fill="#121212"/>
<rect x="537.37" y="544.55" width="1.31" height="2.61" fill="#121212"/>
<rect x="538.63" y="544.55" width="1.31" height="2.66" fill="#121212"/>
<rect x="539.89" y="544.55" width="1.31" height="1.24" fill="#121212"/>
<rect x="536.11" y="546.34" width="0.55" height="4.26" fill="url(#streak)"/>
<rect x="537.89" y="545.48" width="0.56" height="5.12" fill="url(#streak)"/>
<rect x="539.17" y="547.90" width="0.55" height="2.70" fill="url(#streak)"/>
<rect x="539.45" y="546.51" width="0.40" height="1.69" fill="#2a1b0a" opacity="0.75"/>
<rect x="536.79" y="546.51" width="0.40" height="1.87" fill="#2a1b0a" opacity="0.75"/>
<rect x="534.85" y="537.20" width="6.30" height="8.61" rx="0.45" fill="url(#cap)"/>
<path d="M512.80 548.30 L513.60 548.30 L513.89 553.12 L514.72 554.30 L511.68 554.30 L512.51 553.12 Z" fill="#141414"/>
<rect x="510.30" y="566.20" width="5.80" height="34.40" rx="0.41" fill="url(#crgS)"/>
<rect x="511.06" y="566.20" width="4.29" height="32.71" fill="#fff" filter="url(#spk2)" opacity="0.45"/>
<rect x="510.30" y="597.87" width="5.80" height="2.73" rx="0.41" fill="url(#glow)"/>
<rect x="510.05" y="561.25" width="6.30" height="6.25" fill="url(#gold)"/>
<rect x="510.05" y="561.25" width="6.30" height="6.25" fill="url(#goldedge)"/>
<rect x="510.05" y="561.15" width="1.31" height="3.27" fill="#121212"/>
<rect x="511.31" y="561.15" width="1.31" height="3.03" fill="#121212"/>
<rect x="512.57" y="561.15" width="1.31" height="2.65" fill="#121212"/>
<rect x="513.83" y="561.15" width="1.31" height="1.27" fill="#121212"/>
<rect x="515.09" y="561.15" width="1.31" height="1.56" fill="#121212"/>
<rect x="511.88" y="562.33" width="0.55" height="4.87" fill="url(#streak)"/>
<rect x="512.90" y="562.07" width="0.55" height="5.14" fill="url(#streak)"/>
<rect x="514.85" y="563.76" width="0.55" height="3.44" fill="url(#streak)"/>
<rect x="514.80" y="563.11" width="0.40" height="2.90" fill="#2a1b0a" opacity="0.75"/>
<rect x="512.72" y="563.11" width="0.40" height="2.34" fill="#2a1b0a" opacity="0.75"/>
<rect x="510.05" y="553.80" width="6.30" height="8.61" rx="0.45" fill="url(#cap)"/>
<path d="M497.70 561.40 L498.50 561.40 L498.79 566.22 L499.62 567.40 L496.58 567.40 L497.41 566.22 Z" fill="#141414"/>
<rect x="495.20" y="579.30" width="5.80" height="34.40" rx="0.41" fill="url(#crgS)"/>
<rect x="495.96" y="579.30" width="4.29" height="32.71" fill="#fff" filter="url(#spk0)" opacity="0.45"/>
<rect x="495.20" y="610.97" width="5.80" height="2.73" rx="0.41" fill="url(#glow)"/>
<rect x="494.95" y="574.35" width="6.30" height="6.25" fill="url(#gold)"/>
<rect x="494.95" y="574.35" width="6.30" height="6.25" fill="url(#goldedge)"/>
<rect x="494.95" y="574.25" width="1.31" height="3.05" fill="#121212"/>
<rect x="496.21" y="574.25" width="1.31" height="1.61" fill="#121212"/>
<rect x="497.47" y="574.25" width="1.31" height="2.81" fill="#121212"/>
<rect x="498.73" y="574.25" width="1.31" height="3.25" fill="#121212"/>
<rect x="499.99" y="574.25" width="1.31" height="1.51" fill="#121212"/>
<rect x="496.83" y="576.85" width="0.55" height="3.46" fill="url(#streak)"/>
<rect x="497.96" y="575.60" width="0.55" height="4.71" fill="url(#streak)"/>
<rect x="499.76" y="576.80" width="0.55" height="3.51" fill="url(#streak)"/>
<rect x="497.79" y="576.21" width="0.40" height="2.48" fill="#2a1b0a" opacity="0.75"/>
<rect x="497.93" y="576.21" width="0.40" height="3.56" fill="#2a1b0a" opacity="0.75"/>
<rect x="494.95" y="566.90" width="6.30" height="8.61" rx="0.45" fill="url(#cap)"/>
<path d="M523.90 580.00 L524.70 580.00 L524.99 584.82 L525.82 586.00 L522.78 586.00 L523.61 584.82 Z" fill="#141414"/>
<rect x="521.40" y="597.90" width="5.80" height="34.40" rx="0.41" fill="url(#crgS)"/>
<rect x="522.16" y="597.90" width="4.29" height="32.71" fill="#fff" filter="url(#spk1)" opacity="0.45"/>
<rect x="521.40" y="629.57" width="5.80" height="2.73" rx="0.41" fill="url(#glow)"/>
<rect x="521.15" y="592.95" width="6.30" height="6.25" fill="url(#gold)"/>
<rect x="521.15" y="592.95" width="6.30" height="6.25" fill="url(#goldedge)"/>
<rect x="521.15" y="592.85" width="1.31" height="2.59" fill="#121212"/>
<rect x="522.41" y="592.85" width="1.31" height="3.11" fill="#121212"/>
<rect x="523.67" y="592.85" width="1.31" height="0.70" fill="#121212"/>
<rect x="524.93" y="592.85" width="1.31" height="3.22" fill="#121212"/>
<rect x="526.19" y="592.85" width="1.31" height="2.89" fill="#121212"/>
<rect x="522.39" y="594.03" width="0.55" height="4.87" fill="url(#streak)"/>
<rect x="524.02" y="593.54" width="0.55" height="5.37" fill="url(#streak)"/>
<rect x="525.77" y="594.49" width="0.55" height="4.41" fill="url(#streak)"/>
<rect x="525.39" y="594.81" width="0.40" height="2.24" fill="#2a1b0a" opacity="0.75"/>
<rect x="524.23" y="594.81" width="0.40" height="1.94" fill="#2a1b0a" opacity="0.75"/>
<rect x="521.15" y="585.50" width="6.30" height="8.61" rx="0.45" fill="url(#cap)"/>
<path d="M527.30 601.20 L528.10 601.20 L528.39 606.02 L529.22 607.20 L526.18 607.20 L527.01 606.02 Z" fill="#141414"/>
<rect x="524.80" y="619.10" width="5.80" height="34.40" rx="0.41" fill="url(#crgS)"/>
<rect x="525.56" y="619.10" width="4.29" height="32.71" fill="#fff" filter="url(#spk2)" opacity="0.45"/>
<rect x="524.80" y="650.77" width="5.80" height="2.73" rx="0.41" fill="url(#glow)"/>
<rect x="524.55" y="614.15" width="6.30" height="6.25" fill="url(#gold)"/>
<rect x="524.55" y="614.15" width="6.30" height="6.25" fill="url(#goldedge)"/>
<rect x="524.55" y="614.05" width="1.31" height="1.33" fill="#121212"/>
<rect x="525.81" y="614.05" width="1.31" height="2.24" fill="#121212"/>
<rect x="527.07" y="614.05" width="1.31" height="3.30" fill="#121212"/>
<rect x="528.33" y="614.05" width="1.31" height="2.45" fill="#121212"/>
<rect x="529.59" y="614.05" width="1.31" height="1.97" fill="#121212"/>
<rect x="526.01" y="617.24" width="0.59" height="2.87" fill="url(#streak)"/>
<rect x="527.93" y="616.90" width="0.55" height="3.20" fill="url(#streak)"/>
<rect x="529.40" y="614.93" width="0.55" height="5.17" fill="url(#streak)"/>
<rect x="526.88" y="616.01" width="0.40" height="2.04" fill="#2a1b0a" opacity="0.75"/>
<rect x="528.10" y="616.01" width="0.40" height="3.65" fill="#2a1b0a" opacity="0.75"/>
<rect x="524.55" y="606.70" width="6.30" height="8.61" rx="0.45" fill="url(#cap)"/>
<path d="M508.30 615.70 L509.10 615.70 L509.39 620.52 L510.22 621.70 L507.18 621.70 L508.01 620.52 Z" fill="#141414"/>
<rect x="505.80" y="633.60" width="5.80" height="34.40" rx="0.41" fill="url(#crgS)"/>
<rect x="506.56" y="633.60" width="4.29" height="32.71" fill="#fff" filter="url(#spk0)" opacity="0.45"/>
<rect x="505.80" y="665.27" width="5.80" height="2.73" rx="0.41" fill="url(#glow)"/>
<rect x="505.55" y="628.65" width="6.30" height="6.25" fill="url(#gold)"/>
<rect x="505.55" y="628.65" width="6.30" height="6.25" fill="url(#goldedge)"/>
<rect x="505.55" y="628.55" width="1.31" height="1.01" fill="#121212"/>
<rect x="506.81" y="628.55" width="1.31" height="2.88" fill="#121212"/>
<rect x="508.07" y="628.55" width="1.31" height="3.05" fill="#121212"/>
<rect x="509.33" y="628.55" width="1.31" height="1.70" fill="#121212"/>
<rect x="510.59" y="628.55" width="1.31" height="1.41" fill="#121212"/>
<rect x="506.91" y="631.91" width="0.55" height="2.70" fill="url(#streak)"/>
<rect x="508.43" y="629.59" width="0.55" height="5.01" fill="url(#streak)"/>
<rect x="509.93" y="629.37" width="0.57" height="5.24" fill="url(#streak)"/>
<rect x="506.95" y="630.51" width="0.40" height="2.34" fill="#2a1b0a" opacity="0.75"/>
<rect x="510.85" y="630.51" width="0.40" height="2.49" fill="#2a1b0a" opacity="0.75"/>
<rect x="505.55" y="621.20" width="6.30" height="8.61" rx="0.45" fill="url(#cap)"/>
<path d="M517.20 638.50 L518.00 638.50 L518.29 643.32 L519.12 644.50 L516.08 644.50 L516.91 643.32 Z" fill="#141414"/>
<rect x="514.70" y="656.40" width="5.80" height="34.40" rx="0.41" fill="url(#crgS)"/>
<rect x="515.46" y="656.40" width="4.29" height="32.71" fill="#fff" filter="url(#spk1)" opacity="0.45"/>
<rect x="514.70" y="688.07" width="5.80" height="2.73" rx="0.41" fill="url(#glow)"/>
<rect x="514.45" y="651.45" width="6.30" height="6.25" fill="url(#gold)"/>
<rect x="514.45" y="651.45" width="6.30" height="6.25" fill="url(#goldedge)"/>
<rect x="514.45" y="651.35" width="1.31" height="1.42" fill="#121212"/>
<rect x="515.71" y="651.35" width="1.31" height="1.91" fill="#121212"/>
<rect x="516.97" y="651.35" width="1.31" height="2.15" fill="#121212"/>
<rect x="518.23" y="651.35" width="1.31" height="0.93" fill="#121212"/>
<rect x="519.49" y="651.35" width="1.31" height="2.02" fill="#121212"/>
<rect x="516.50" y="653.26" width="0.55" height="4.14" fill="url(#streak)"/>
<rect x="517.86" y="653.60" width="0.55" height="3.81" fill="url(#streak)"/>
<rect x="519.42" y="654.45" width="0.56" height="2.95" fill="url(#streak)"/>
<rect x="519.29" y="653.31" width="0.40" height="2.83" fill="#2a1b0a" opacity="0.75"/>
<rect x="517.67" y="653.31" width="0.40" height="1.78" fill="#2a1b0a" opacity="0.75"/>
<rect x="514.45" y="644.00" width="6.30" height="8.61" rx="0.45" fill="url(#cap)"/>
<ellipse cx="512.4" cy="447.2" rx="45.5" ry="12" transform="rotate(-31.3 512.4 447.2)" fill="url(#canopy2)"/>
<circle cx="485" cy="462" r="0.7" fill="#666"/><circle cx="492" cy="457" r="0.7" fill="#666"/><circle cx="497" cy="452" r="0.7" fill="#666"/><circle cx="503" cy="453" r="0.7" fill="#666"/><circle cx="508" cy="447" r="0.7" fill="#666"/><circle cx="512" cy="449" r="0.7" fill="#666"/><circle cx="516" cy="441" r="0.7" fill="#666"/><circle cx="521" cy="443" r="0.7" fill="#666"/><circle cx="527" cy="436" r="0.7" fill="#666"/><circle cx="533" cy="432" r="0.7" fill="#666"/><circle cx="540" cy="430" r="0.7" fill="#666"/><circle cx="509" cy="441" r="0.7" fill="#666"/>
<g stroke="#444" stroke-width="1.2" fill="none">
<!-- W20 -->
<line x1="165.6" y1="44" x2="165.6" y2="63.3"/><line x1="309.6" y1="44" x2="309.6" y2="63.3"/>
<line x1="168" y1="53.3" x2="307" y2="53.3"/>
<!-- max height -->
<line x1="76" y1="103.2" x2="102.4" y2="103.2"/><line x1="76" y1="630.2" x2="102.5" y2="630.2"/>
<line x1="89.5" y1="106" x2="89.5" y2="321"/><line x1="89.5" y1="412" x2="89.5" y2="627"/>
<!-- shortest -->
<line x1="116.5" y1="103.2" x2="142.8" y2="103.2"/><line x1="116" y1="192.2" x2="142.5" y2="192.2"/>
<line x1="129.5" y1="106" x2="129.5" y2="116.8"/><line x1="129.5" y1="181.5" x2="129.5" y2="189"/>
<!-- H15 -->
<line x1="359.5" y1="341.6" x2="385.5" y2="341.6"/><line x1="362" y1="510.3" x2="388" y2="510.3"/>
<line x1="372.4" y1="344" x2="372.4" y2="384"/><line x1="375.5" y1="461" x2="375.5" y2="507"/>
</g>
<path d="M89.5 103.8 L92.2 110.0 L89.5 108.2 L86.8 110.0 Z" fill="#1c1c1c" stroke="none"/><path d="M89.5 629.8 L92.2 623.6 L89.5 625.4 L86.8 623.6 Z" fill="#1c1c1c" stroke="none"/><path d="M129.5 103.8 L132.2 110.0 L129.5 108.2 L126.8 110.0 Z" fill="#1c1c1c" stroke="none"/><path d="M129.5 191.8 L132.2 185.6 L129.5 187.4 L126.8 185.6 Z" fill="#1c1c1c" stroke="none"/><path d="M372.4 342.2 L375.1 348.4 L372.4 346.6 L369.7 348.4 Z" fill="#1c1c1c" stroke="none"/><path d="M375.5 509.8 L378.2 503.6 L375.5 505.4 L372.8 503.6 Z" fill="#1c1c1c" stroke="none"/><path d="M166.2 53.3 L171.4 51.0 L170.0 53.3 L171.4 55.6 Z" fill="#1c1c1c" stroke="none"/><path d="M309.0 53.3 L303.8 51.0 L305.2 53.3 L303.8 55.6 Z" fill="#1c1c1c" stroke="none"/>
<g opacity="0.999">
<text x="1.9" y="25.3" font-size="22.6" font-weight="bold" fill="#0a0a0a" text-anchor="start" textLength="85.0" lengthAdjust="spacingAndGlyphs" stroke="#0a0a0a" stroke-width="1.8" stroke-linejoin="miter">10-Lights</text>
<text x="92.4" y="25.3" font-size="22.6" font-weight="bold" fill="#0a0a0a" text-anchor="start" textLength="51.0" lengthAdjust="spacingAndGlyphs" stroke="#0a0a0a" stroke-width="1.8" stroke-linejoin="miter">black</text>
<text x="227.0" y="50.0" font-size="16.5" font-weight="normal" fill="#1a1a1a" text-anchor="start" textLength="42.5" lengthAdjust="spacingAndGlyphs" stroke="#1a1a1a" stroke-width="0.3">W 20″</text>
<text x="107.8" y="131.9" font-size="11.9" font-weight="normal" fill="#1a1a1a" text-anchor="start" textLength="56.3" lengthAdjust="spacingAndGlyphs" stroke="#1a1a1a" stroke-width="0.3">Adjustble</text>
<text x="111.5" y="151.5" font-size="13.5" font-weight="normal" fill="#1a1a1a" text-anchor="start" textLength="50.5" lengthAdjust="spacingAndGlyphs" stroke="#1a1a1a" stroke-width="0.3">shortest</text>
<text x="112.5" y="175.5" font-size="23.5" font-weight="normal" fill="#1a1a1a" text-anchor="start" textLength="46.5" lengthAdjust="spacingAndGlyphs" stroke="#1a1a1a" stroke-width="0.3">0.7ft</text>
<text x="57.0" y="345.5" font-size="16.2" font-weight="normal" fill="#1a1a1a" text-anchor="start" textLength="71.0" lengthAdjust="spacingAndGlyphs" stroke="#1a1a1a" stroke-width="0.3">Adjustble</text>
<text x="53.5" y="373.5" font-size="16.2" font-weight="normal" fill="#1a1a1a" text-anchor="start" textLength="86.0" lengthAdjust="spacingAndGlyphs" stroke="#1a1a1a" stroke-width="0.3">Max Height</text>
<text x="67.3" y="403.0" font-size="23.5" font-weight="normal" fill="#1a1a1a" text-anchor="start" textLength="41.0" lengthAdjust="spacingAndGlyphs" stroke="#1a1a1a" stroke-width="0.3">10ft</text>
<text x="309.5" y="247.0" font-size="16.8" font-weight="normal" fill="#1a1a1a" text-anchor="start" textLength="96.0" lengthAdjust="spacingAndGlyphs" stroke="#1a1a1a" stroke-width="0.3">It can be used</text>
<text x="309.5" y="274.0" font-size="16.8" font-weight="normal" fill="#1a1a1a" text-anchor="start" textLength="114.5" lengthAdjust="spacingAndGlyphs" stroke="#1a1a1a" stroke-width="0.3">on a ceiling with</text>
<text x="312.5" y="300.5" font-size="16.8" font-weight="normal" fill="#1a1a1a" text-anchor="start" textLength="109.0" lengthAdjust="spacingAndGlyphs" stroke="#1a1a1a" stroke-width="0.3">a 45 degree tilt,</text>
<text x="370.0" y="431.0" font-size="22" font-weight="normal" fill="#1a1a1a" text-anchor="start" textLength="44.5" lengthAdjust="spacingAndGlyphs" stroke="#1a1a1a" stroke-width="0.3">H15′′</text>
<text x="322.0" y="549.0" font-size="21.5" font-weight="normal" fill="#1a1a1a" text-anchor="start" textLength="54.0" lengthAdjust="spacingAndGlyphs" stroke="#1a1a1a" stroke-width="0.3">W1.5 ″</text>
<text x="469.5" y="125.5" font-size="16.2" font-weight="normal" fill="#1a1a1a" text-anchor="start" textLength="108.5" lengthAdjust="spacingAndGlyphs" stroke="#1a1a1a" stroke-width="0.3">Using your finger</text>
<text x="555.5" y="236.7" font-size="14.5" font-weight="normal" fill="#1a1a1a" text-anchor="start" textLength="115.0" lengthAdjust="spacingAndGlyphs" stroke="#1a1a1a" stroke-width="0.3">Press and hold the</text>
<text x="562.0" y="252.9" font-size="14.5" font-weight="normal" fill="#1a1a1a" text-anchor="start" textLength="103.5" lengthAdjust="spacingAndGlyphs" stroke="#1a1a1a" stroke-width="0.3">locking pins into</text>
<text x="571.5" y="268.7" font-size="14.5" font-weight="normal" fill="#1a1a1a" text-anchor="start" textLength="72.0" lengthAdjust="spacingAndGlyphs" stroke="#1a1a1a" stroke-width="0.3">the canopy.</text>
<text x="451.0" y="333.8" font-size="15" font-weight="normal" fill="#1a1a1a" text-anchor="start" textLength="112.0" lengthAdjust="spacingAndGlyphs" stroke="#1a1a1a" stroke-width="0.3">Whlie holding the</text>
<text x="451.0" y="349.7" font-size="15" font-weight="normal" fill="#1a1a1a" text-anchor="start" textLength="97.5" lengthAdjust="spacingAndGlyphs" stroke="#1a1a1a" stroke-width="0.3">locking pin,pull</text>
<text x="451.0" y="365.8" font-size="15" font-weight="normal" fill="#1a1a1a" text-anchor="start" textLength="106.5" lengthAdjust="spacingAndGlyphs" stroke="#1a1a1a" stroke-width="0.3">down or push up</text>
<text x="451.0" y="381.7" font-size="15" font-weight="normal" fill="#1a1a1a" text-anchor="start" textLength="117.0" lengthAdjust="spacingAndGlyphs" stroke="#1a1a1a" stroke-width="0.3">the chain to adjust</text>
<text x="451.0" y="397.8" font-size="15" font-weight="normal" fill="#1a1a1a" text-anchor="start" textLength="61.5" lengthAdjust="spacingAndGlyphs" stroke="#1a1a1a" stroke-width="0.3">th height.</text>
<text x="569.2" y="492.8" font-size="16.8" font-weight="normal" fill="#1a1a1a" text-anchor="start" textLength="109.0" lengthAdjust="spacingAndGlyphs" stroke="#1a1a1a" stroke-width="0.3">chandeliers can</text>
<text x="569.2" y="519.8" font-size="16.8" font-weight="normal" fill="#1a1a1a" text-anchor="start" textLength="88.0" lengthAdjust="spacingAndGlyphs" stroke="#1a1a1a" stroke-width="0.3">be used on a</text>
<text x="569.2" y="547.2" font-size="16.8" font-weight="normal" fill="#1a1a1a" text-anchor="start" textLength="81.0" lengthAdjust="spacingAndGlyphs" stroke="#1a1a1a" stroke-width="0.3">ceiling with</text>
<text x="572.3" y="574.6" font-size="16.8" font-weight="normal" fill="#1a1a1a" text-anchor="start" textLength="28.7" lengthAdjust="spacingAndGlyphs" stroke="#1a1a1a" stroke-width="0.3">a 45</text>
<text x="603.5" y="570.0" font-size="9" font-weight="normal" fill="#999" text-anchor="start" stroke="#999" stroke-width="0.3">°</text>
<text x="620.6" y="574.6" font-size="16.8" font-weight="normal" fill="#1a1a1a" text-anchor="start" textLength="19.5" lengthAdjust="spacing" stroke="#1a1a1a" stroke-width="0.3">tilt</text>
</g>
</svg>
</body></html>
